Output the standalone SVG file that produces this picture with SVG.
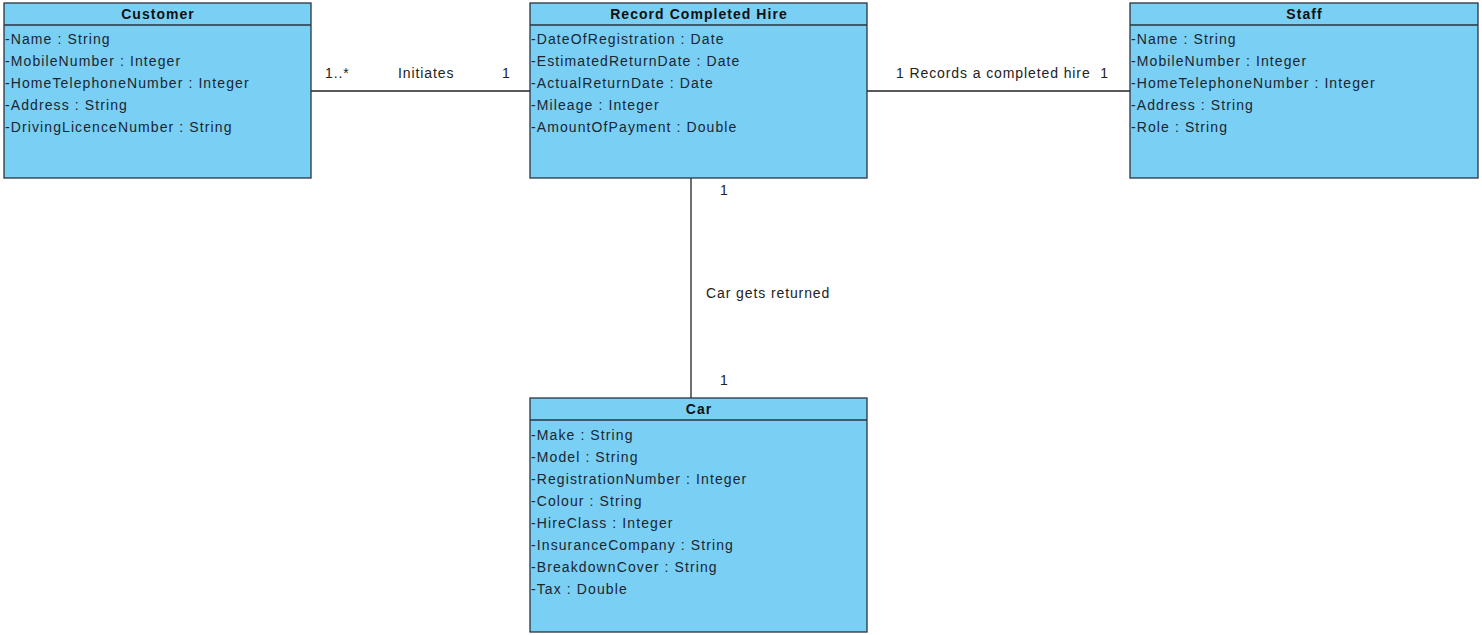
<svg xmlns="http://www.w3.org/2000/svg" width="1482" height="635" viewBox="0 0 1482 635">
  <style>
    .box { fill: #7acff5; stroke: #2a3440; stroke-width: 1.3; }
    .sep { stroke: #2a3440; stroke-width: 1.3; }
    .title { font-family: "Liberation Sans", Arial, sans-serif; font-size: 14px; font-weight: bold; fill: #111; text-anchor: middle; letter-spacing: 1.05px; }
    .attr { font-family: "Liberation Sans", Arial, sans-serif; font-size: 14px; fill: #1a2630; letter-spacing: 1.1px; }
    .edge { stroke: #222; stroke-width: 1.3; fill: none; }
    .lbl { font-family: "Liberation Sans", Arial, sans-serif; font-size: 14px; fill: #222; letter-spacing: 0.9px; }
  </style>
  <rect width="1482" height="635" fill="#ffffff"/>

  <!-- associations -->
  <g id="connectors">
    <line class="edge" x1="311" y1="91" x2="530" y2="91"/>
    <line class="edge" x1="867" y1="91" x2="1130" y2="91"/>
    <line class="edge" x1="691" y1="178" x2="691" y2="398"/>
    <text class="lbl" x="325" y="78">1..*</text>
    <text class="lbl" x="398" y="78">Initiates</text>
    <text class="lbl" x="502" y="78">1</text>
    <text class="lbl" x="896" y="78" xml:space="preserve">1 Records a completed hire  1</text>
    <text class="lbl" x="720" y="195">1</text>
    <text class="lbl" x="706" y="298">Car gets returned</text>
    <text class="lbl" x="720" y="385">1</text>
  </g>

  <!-- Customer class -->
  <g id="customer">
    <rect class="box" x="4" y="3" width="307" height="175"/>
    <line class="sep" x1="4" y1="25" x2="311" y2="25"/>
    <text class="title" x="158" y="19">Customer</text>
    <text class="attr" x="5" y="44">-Name : String</text>
    <text class="attr" x="5" y="66">-MobileNumber : Integer</text>
    <text class="attr" x="5" y="88">-HomeTelephoneNumber : Integer</text>
    <text class="attr" x="5" y="110">-Address : String</text>
    <text class="attr" x="5" y="132">-DrivingLicenceNumber : String</text>
  </g>

  <!-- Record Completed Hire class -->
  <g id="record-completed-hire">
    <rect class="box" x="530" y="3" width="337" height="175"/>
    <line class="sep" x1="530" y1="25" x2="867" y2="25"/>
    <text class="title" x="699" y="19">Record Completed Hire</text>
    <text class="attr" x="531" y="44">-DateOfRegistration : Date</text>
    <text class="attr" x="531" y="66">-EstimatedReturnDate : Date</text>
    <text class="attr" x="531" y="88">-ActualReturnDate : Date</text>
    <text class="attr" x="531" y="110">-Mileage : Integer</text>
    <text class="attr" x="531" y="132">-AmountOfPayment : Double</text>
  </g>

  <!-- Staff class -->
  <g id="staff">
    <rect class="box" x="1130" y="3" width="348" height="175"/>
    <line class="sep" x1="1130" y1="25" x2="1478" y2="25"/>
    <text class="title" x="1304.5" y="19">Staff</text>
    <text class="attr" x="1131" y="44">-Name : String</text>
    <text class="attr" x="1131" y="66">-MobileNumber : Integer</text>
    <text class="attr" x="1131" y="88">-HomeTelephoneNumber : Integer</text>
    <text class="attr" x="1131" y="110">-Address : String</text>
    <text class="attr" x="1131" y="132">-Role : String</text>
  </g>

  <!-- Car class -->
  <g id="car">
    <rect class="box" x="530" y="398" width="337" height="234"/>
    <line class="sep" x1="530" y1="420" x2="867" y2="420"/>
    <text class="title" x="699" y="414">Car</text>
    <text class="attr" x="531" y="440">-Make : String</text>
    <text class="attr" x="531" y="462">-Model : String</text>
    <text class="attr" x="531" y="484">-RegistrationNumber : Integer</text>
    <text class="attr" x="531" y="506">-Colour : String</text>
    <text class="attr" x="531" y="528">-HireClass : Integer</text>
    <text class="attr" x="531" y="550">-InsuranceCompany : String</text>
    <text class="attr" x="531" y="572">-BreakdownCover : String</text>
    <text class="attr" x="531" y="594">-Tax : Double</text>
  </g>
</svg>
